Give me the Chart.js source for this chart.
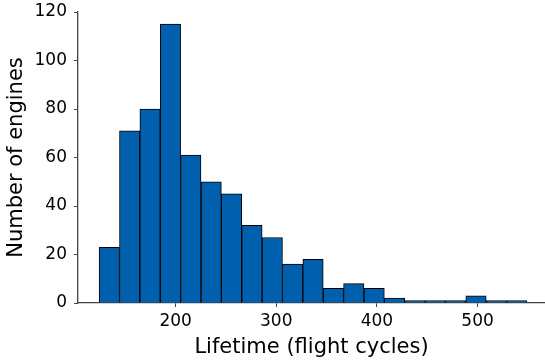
<!DOCTYPE html>
<html>
<head>
<meta charset="utf-8">
<script src="https://cdn.jsdelivr.net/npm/chart.js@4.4.1/dist/chart.umd.min.js"></script>
<style>
  html, body { margin: 0; padding: 0; background: #fff; }
  #wrap { width: 545px; height: 360px; }
</style>
</head>
<body>
<div id="wrap"><canvas id="hist"></canvas></div>
<script>
// histogram of engine lifetimes
const binStart = 124;
const binWidth = 20.24;
const counts = [23, 71, 80, 115, 61, 50, 45, 32, 27, 16, 18, 6, 8, 6, 2, 1, 1, 1, 3, 1, 1];
const xTicks = [200, 300, 400, 500];
const yTicks = [0, 20, 40, 60, 80, 100, 120];

const points = counts.map((c, i) => ({ x: binStart + binWidth * (i + 0.5), y: c }));

const tickFont = { family: "DejaVu Sans", size: 17 };
const titleFont = { family: "DejaVu Sans", size: 21 };

new Chart(document.getElementById("hist").getContext("2d"), {
  type: "bar",
  data: {
    datasets: [
      {
        data: points,
        backgroundColor: "#0060ad",
        borderColor: "#000",
        borderWidth: 1,
        barPercentage: 1,
        categoryPercentage: 1,
      },
    ],
  },
  options: {
    responsive: true,
    maintainAspectRatio: false,
    animation: false,
    layout: { padding: { top: 12, right: 0, left: 4, bottom: 0 } },
    plugins: { legend: { display: false }, tooltip: { enabled: false } },
    scales: {
      x: {
        type: "linear",
        offset: false,
        min: 103,
        max: 567,
        afterBuildTicks: (axis) => { axis.ticks = xTicks.map((v) => ({ value: v })); },
        afterFit: (axis) => { axis.height = 57; axis.paddingLeft = 0; axis.paddingRight = 0; },
        ticks: { font: tickFont, color: "#000", padding: 4 },
        grid: { offset: false, drawOnChartArea: false, drawTicks: true, tickLength: 4, color: "#444" },
        border: { color: "#444", width: 1.3 },
        title: { display: true, text: "Lifetime (flight cycles)", font: titleFont, color: "#000", padding: { top: 0, bottom: 0 } },
      },
      y: {
        min: 0,
        max: 120,
        afterBuildTicks: (axis) => { axis.ticks = yTicks.map((v) => ({ value: v })); },
        afterFit: (axis) => { axis.width = 74; axis.paddingTop = 0; axis.paddingBottom = 0; },
        ticks: { font: tickFont, color: "#000", padding: 7 },
        grid: { offset: false, drawOnChartArea: false, drawTicks: true, tickLength: 4, color: "#444" },
        border: { color: "#444", width: 1.3 },
        title: { display: true, text: "Number of engines", font: titleFont, color: "#000", padding: { top: 0, bottom: 0 } },
      },
    },
  },
});
</script>
</body>
</html>
